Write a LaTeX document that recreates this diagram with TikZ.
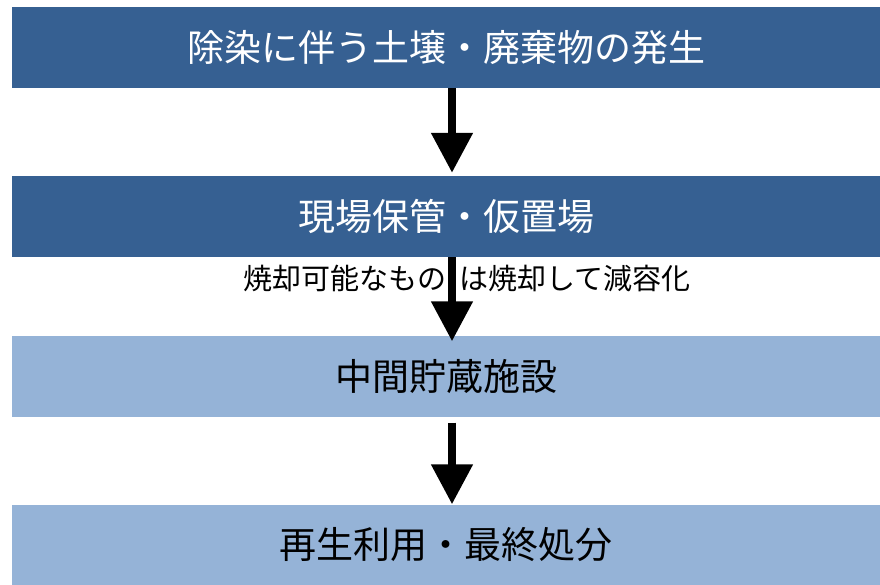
\documentclass[tikz,border=0pt]{standalone}
\usepackage{fontspec}
\setmainfont{Noto Sans CJK JP}
\usetikzlibrary{arrows.meta}
\definecolor{darkbar}{HTML}{366092}
\definecolor{lightbar}{HTML}{95B3D7}
\begin{document}
\begin{tikzpicture}[x=1pt, y=-1pt,
  bar/.style={rectangle, inner sep=0pt, minimum width=868pt, minimum height=81pt,
    font=\fontsize{37}{40}\selectfont},
  darkstep/.style={bar, fill=darkbar, text=white},
  lightstep/.style={bar, fill=lightbar, text=black},
  flow/.style={line width=8pt, -{Triangle[width=40pt, length=40pt]}}]
 \useasboundingbox (0,0) rectangle (880,585);

 \draw node[darkstep] (gen) at (446,47.5) {除染に伴う土壌・廃棄物の発生};
 \draw node[darkstep] (store) at (446,216.5) {現場保管・仮置場};
 \draw node[lightstep] (interim) at (446,376) {中間貯蔵施設};
 \draw node[lightstep] (final) at (446,545) {再生利用・最終処分};

 \draw node[inner sep=0pt, font=\fontsize{29}{32}\selectfont] (note) at (467,278)
   {焼却可能なもの\hspace{0.45em}は焼却して減容化};

 \draw[flow, shorten >=3pt] ([xshift=6pt]gen.south) -- ([xshift=6pt]store.north);
 \draw[flow, shorten >=-6pt] ([xshift=6pt]store.south) -- ([xshift=6pt]interim.north);
 \draw[flow, shorten <=6pt] ([xshift=6pt]interim.south) -- ([xshift=6pt]final.north);
\end{tikzpicture}
\end{document}
